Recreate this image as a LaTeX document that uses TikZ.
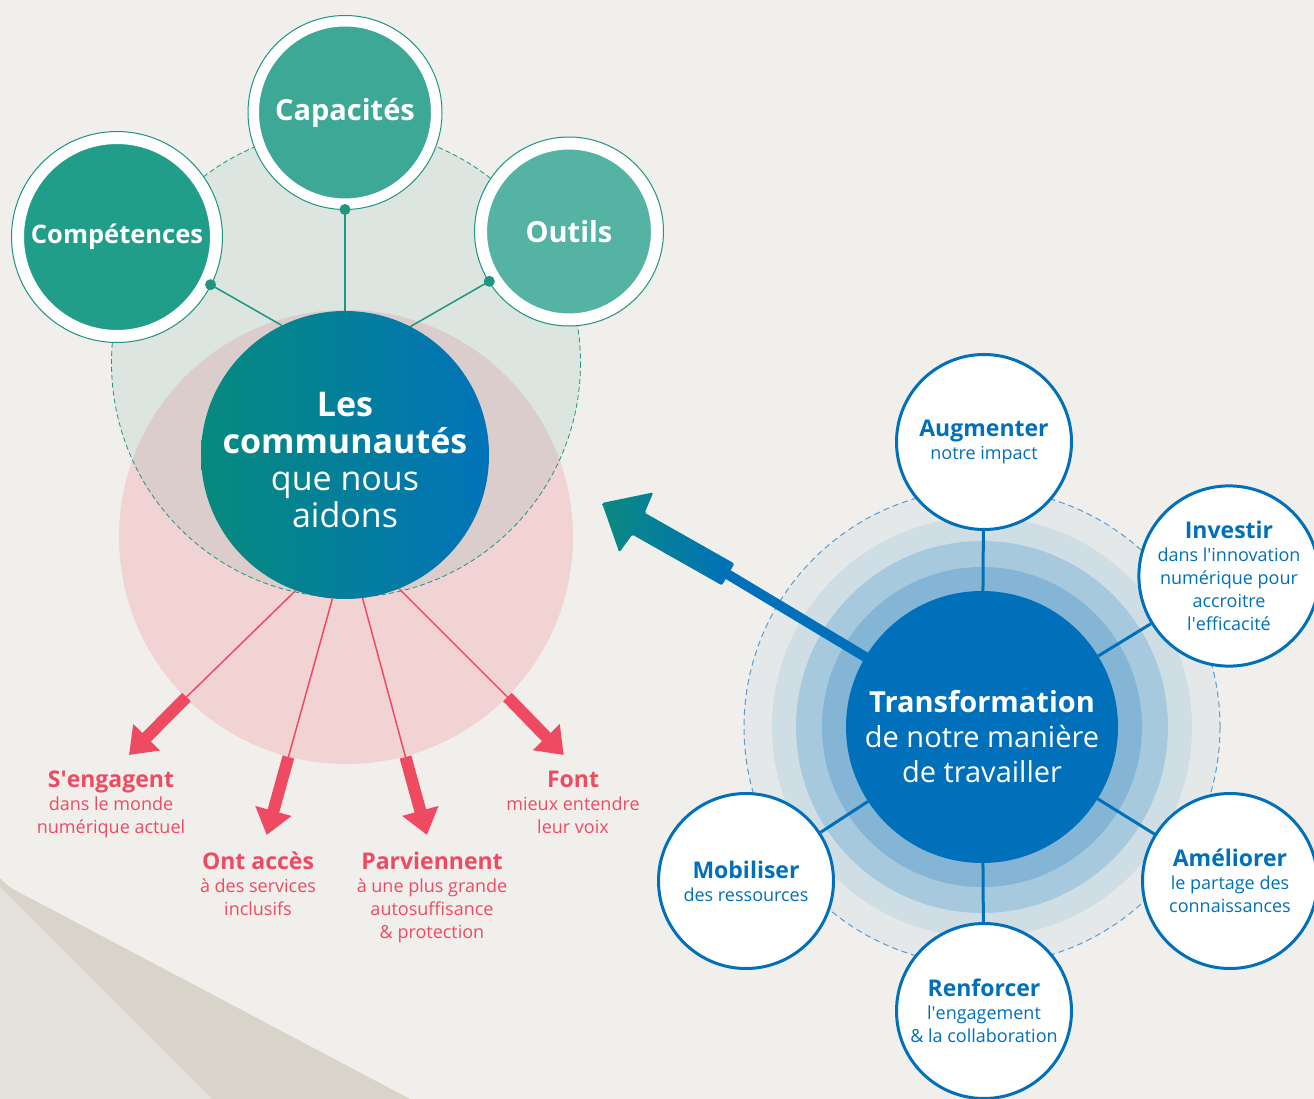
\documentclass[tikz,border=0pt]{standalone}
\usepackage{fontspec}
\setmainfont{Open Sans}
\usetikzlibrary{arrows.meta}

\definecolor{bgc}{HTML}{F0EFEB}
\definecolor{cornerdk}{HTML}{D8D4CA}
\definecolor{cornerlt}{HTML}{E4E1DA}
\definecolor{greenbg}{HTML}{DCE5DF}
\definecolor{pinkbg}{HTML}{F1D3D3}
\definecolor{mixbg}{HTML}{DACDCB}
\definecolor{tealln}{HTML}{1E9682}
\definecolor{satA}{HTML}{219E89}
\definecolor{satB}{HTML}{3DA895}
\definecolor{satC}{HTML}{55B3A4}
\definecolor{commL}{HTML}{078A7D}
\definecolor{commR}{HTML}{0173B9}
\definecolor{redc}{HTML}{EE4B63}
\definecolor{bluec}{HTML}{0070BA}
\definecolor{ringA}{HTML}{84B5D5}
\definecolor{ringB}{HTML}{A7C9DD}
\definecolor{ringC}{HTML}{CFDEE5}
\definecolor{ringD}{HTML}{E4E8E8}
\definecolor{dashbl}{HTML}{5A9BD2}
\definecolor{arrowtl}{HTML}{0A8A80}

\newcommand{\hdfont}{\fontsize{23}{23}\selectfont\bfseries}
\newcommand{\aps}{\textquotesingle}

\tikzset{
  tsat/.style={circle, inner sep=0pt, draw=white, text=white},
  link/.style={tealln, line width=1.5pt},
  rthin/.style={redc, line width=1.5pt},
  rthick/.style={redc, line width=12pt, -{Triangle[width=36pt,length=25pt]}},
  rlab/.style={text=redc, align=center, anchor=north, inner sep=0pt,
    font=\fontsize{18}{23}\selectfont},
  bsat/.style={circle, fill=white, draw=bluec, line width=3pt, minimum size=175pt,
    inner sep=0pt, text=bluec, align=center, font=\fontsize{18}{23}\selectfont},
  spoke/.style={bluec, line width=3pt},
}

\begin{document}
\begin{tikzpicture}[x=1pt,y=-1pt]
\useasboundingbox (0,0) rectangle (1314,1099);
\fill[bgc] (0,0) rectangle (1314,1099);
% page corner
\fill[cornerdk] (0,878) .. controls (10,888) .. (30,898) -- (410,1099) -- (0,1099) -- cycle;
\fill[cornerlt] (0,887) -- (212,1099) -- (0,1099) -- cycle;

% communities
\coordinate (gc) at (346,363);
\coordinate (pc) at (346,537);
\fill[greenbg] (gc) circle (234.5);
\fill[pinkbg] (pc) circle (227);
\begin{scope}
  \clip (gc) circle (234.5);
  \fill[mixbg] (pc) circle (227);
\end{scope}
\draw[tealln, line width=0.8pt, dash pattern=on 5pt off 3pt] (gc) circle (234.5);

\node[circle, minimum size=288pt, inner sep=0pt, left color=commL,
  middle color=commL!70!commR, right color=commR] (comm) at (345,455) {};
\node[text=white, align=center, inner sep=0pt, font=\fontsize{34}{37}\selectfont]
  (commtxt) at (345,460.5) {\textbf{Les}\\\textbf{communautés}\\que nous\\aidons};

\node[tsat, fill=satA, minimum size=198pt, line width=12pt,
  font=\fontsize{25.5}{26}\selectfont\bfseries] (comp) at (117,237) {Compétences};
\node[tsat, fill=satB, minimum size=183pt, line width=11pt,
  font=\fontsize{29}{30}\selectfont\bfseries] (capa) at (345,112.5) {Capacités};
\node[tsat, fill=satC, minimum size=176pt, line width=12pt,
  font=\fontsize{29}{30}\selectfont\bfseries] (outl) at (569,231.5) {Outils};
\draw[tealln, line width=1pt] (comp.center) circle (105.5);
\draw[tealln, line width=1pt] (capa.center) circle (97);
\draw[tealln, line width=1pt] (outl.center) circle (94.5);

\draw[link] (comp.-27) -- (comm.116);
\draw[link] (capa.south) -- (comm.north);
\draw[link] (outl.212) -- (comm.63);
\fill[tealln] (comp.-27) circle (5.5);
\fill[tealln] (capa.south) circle (5.5);
\fill[tealln] (outl.212) circle (5.5);

% results
\coordinate (r1a) at (186.5,697); \coordinate (r1b) at (129,755);
\coordinate (r2a) at (288.4,757); \coordinate (r2b) at (266.7,835);
\coordinate (r3a) at (405.5,757); \coordinate (r3b) at (427,835);
\coordinate (r4a) at (507.4,697); \coordinate (r4b) at (563.7,755);
\draw[rthin] (comm.250) -- (r1a);
\draw[rthin] (comm.265) -- (r2a);
\draw[rthin] (comm.277) -- (r3a);
\draw[rthin] (comm.292) -- (r4a);
\draw[rthick] (r1a) -- (r1b);
\draw[rthick] (r2a) -- (r2b);
\draw[rthick] (r3a) -- (r3b);
\draw[rthick] (r4a) -- (r4b);

\node[rlab] (engage) at (111,771) {{\hdfont S\aps engagent}\\dans le monde\\numérique actuel};
\node[rlab] (acces) at (258,852) {{\hdfont Ont accès}\\à des services\\inclusifs};
\node[rlab] (parv) at (432,852) {{\hdfont Parviennent}\\à une plus grande\\autosuffisance\\\& protection};
\node[rlab] (voix) at (573,771) {{\hdfont Font}\\mieux entendre\\leur voix};

% transformation
\coordinate (tc) at (982,727);
\fill[ringD] (tc) circle (238);
\draw[dashbl, line width=1pt, dash pattern=on 6pt off 4pt] (tc) circle (238);
\fill[ringC] (tc) circle (210);
\fill[ringB] (tc) circle (186);
\fill[ringA] (tc) circle (160);

\coordinate (tip) at (602,503);
\coordinate (armjoin) at (728,574.5);
\draw[bluec, line width=10pt] (tc) -- (armjoin);
\shade[left color=arrowtl, right color=bluec, rounded corners=1.5pt]
  (tip) -- (653.3,492.4) -- (644.7,512.8) -- (734.4,563.6) -- (722.0,585.4)
  -- (632.3,534.6) -- (619.3,552.4) -- cycle;

\node[circle, fill=bluec, minimum size=272pt, inner sep=0pt] (trans) at (tc) {};
\node[text=white, align=center, inner sep=0pt, font=\fontsize{29}{35}\selectfont]
  (transtxt) at (982,737) {\textbf{Transformation}\\de notre manière\\de travailler};

\node[bsat] (aug) at (984,442) {{\hdfont Augmenter}\\notre impact};
\node[bsat] (inv) at (1229,576) {{\hdfont Investir}\\dans l\aps innovation\\numérique pour\\accroitre\\l\aps efficacité};
\node[bsat] (mob) at (746,881) {{\hdfont Mobiliser}\\des ressources};
\node[bsat] (ame) at (1230,881) {{\hdfont Améliorer}\\le partage des\\connaissances};
\node[bsat] (ren) at (984,1011) {{\hdfont Renforcer}\\l\aps engagement\\\& la collaboration};

\draw[spoke] (trans) -- (aug);
\draw[spoke] (trans) -- (inv);
\draw[spoke] (trans) -- (mob);
\draw[spoke] (trans) -- (ame);
\draw[spoke] (trans) -- (ren);
\end{tikzpicture}
\end{document}
